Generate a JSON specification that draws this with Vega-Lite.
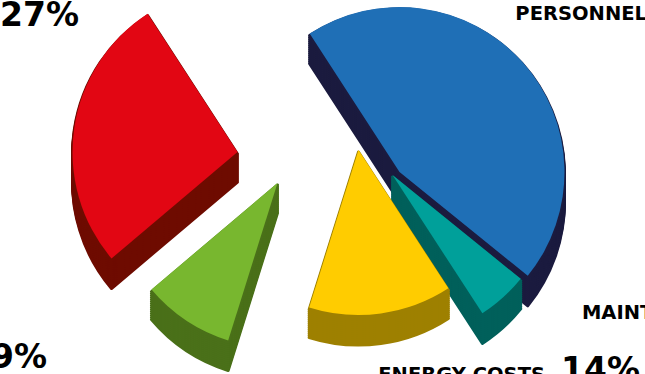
{
  "$schema": "https://vega.github.io/schema/vega-lite/v6.json",
  "width": 645,
  "height": 310,
  "autosize": "none",
  "padding": {"left": 0, "top": 0, "right": 0, "bottom": 64},
  "background": "white",
  "config": {"view": {"stroke": null}},
  "data": {"values": [
    {"name": "PERSONNEL", "value": 0.45, "order": 1},
    {"name": "MAINTENANCE", "value": 0.05, "order": 2},
    {"name": "ENERGY COSTS", "value": 0.14, "order": 3},
    {"name": "OTHER", "value": 0.09, "order": 4},
    {"name": "MATERIALS", "value": 0.27, "order": 5}
  ]},
  "layer": [
    {
      "encoding": {
        "theta": {"field": "value", "type": "quantitative", "stack": true, "scale": {"range": [-0.576, 5.707]}},
        "order": {"field": "order", "type": "quantitative"},
        "x": {"value": {"expr": "width/2 + (datum.name==='PERSONNEL' ? 77 : datum.name==='MAINTENANCE' ? 70 : datum.name==='ENERGY COSTS' ? 36 : datum.name==='OTHER' ? -45 : -85)"}}
      },
      "layer": [
        {"mark": {"type": "arc", "radius": 165, "strokeWidth": 3, "strokeJoin": "round"},
         "encoding": {
           "fill": {"field": "name", "type": "nominal", "legend": null, "scale": {"domain": ["PERSONNEL", "MAINTENANCE", "ENERGY COSTS", "OTHER", "MATERIALS"], "range": ["#1b1b3f", "#00605b", "#9e8000", "#4a7019", "#6e0b00"]}},
           "stroke": {"field": "name", "type": "nominal", "legend": null, "scale": {"domain": ["PERSONNEL", "MAINTENANCE", "ENERGY COSTS", "OTHER", "MATERIALS"], "range": ["#1b1b3f", "#00605b", "#9e8000", "#4a7019", "#6e0b00"]}},
           "y": {"value": {"expr": "height/2 + 30 + (datum.name==='PERSONNEL' ? 17 : datum.name==='MAINTENANCE' ? 20 : datum.name==='ENERGY COSTS' ? -5 : datum.name==='OTHER' ? 28 : -3)"}}
         }},
        {"mark": {"type": "arc", "radius": 165, "strokeWidth": 3, "strokeJoin": "round"},
         "encoding": {"fill": {"field": "name", "type": "nominal", "legend": null}, "stroke": {"field": "name", "type": "nominal", "legend": null},
           "y": {"value": {"expr": "height/2 + 28 + (datum.name==='PERSONNEL' ? 17 : datum.name==='MAINTENANCE' ? 20 : datum.name==='ENERGY COSTS' ? -5 : datum.name==='OTHER' ? 28 : -3)"}}}},
        {"mark": {"type": "arc", "radius": 165, "strokeWidth": 3, "strokeJoin": "round"},
         "encoding": {"fill": {"field": "name", "type": "nominal", "legend": null}, "stroke": {"field": "name", "type": "nominal", "legend": null},
           "y": {"value": {"expr": "height/2 + 26 + (datum.name==='PERSONNEL' ? 17 : datum.name==='MAINTENANCE' ? 20 : datum.name==='ENERGY COSTS' ? -5 : datum.name==='OTHER' ? 28 : -3)"}}}},
        {"mark": {"type": "arc", "radius": 165, "strokeWidth": 3, "strokeJoin": "round"},
         "encoding": {"fill": {"field": "name", "type": "nominal", "legend": null}, "stroke": {"field": "name", "type": "nominal", "legend": null},
           "y": {"value": {"expr": "height/2 + 24 + (datum.name==='PERSONNEL' ? 17 : datum.name==='MAINTENANCE' ? 20 : datum.name==='ENERGY COSTS' ? -5 : datum.name==='OTHER' ? 28 : -3)"}}}},
        {"mark": {"type": "arc", "radius": 165, "strokeWidth": 3, "strokeJoin": "round"},
         "encoding": {"fill": {"field": "name", "type": "nominal", "legend": null}, "stroke": {"field": "name", "type": "nominal", "legend": null},
           "y": {"value": {"expr": "height/2 + 22 + (datum.name==='PERSONNEL' ? 17 : datum.name==='MAINTENANCE' ? 20 : datum.name==='ENERGY COSTS' ? -5 : datum.name==='OTHER' ? 28 : -3)"}}}},
        {"mark": {"type": "arc", "radius": 165, "strokeWidth": 3, "strokeJoin": "round"},
         "encoding": {"fill": {"field": "name", "type": "nominal", "legend": null}, "stroke": {"field": "name", "type": "nominal", "legend": null},
           "y": {"value": {"expr": "height/2 + 20 + (datum.name==='PERSONNEL' ? 17 : datum.name==='MAINTENANCE' ? 20 : datum.name==='ENERGY COSTS' ? -5 : datum.name==='OTHER' ? 28 : -3)"}}}},
        {"mark": {"type": "arc", "radius": 165, "strokeWidth": 3, "strokeJoin": "round"},
         "encoding": {"fill": {"field": "name", "type": "nominal", "legend": null}, "stroke": {"field": "name", "type": "nominal", "legend": null},
           "y": {"value": {"expr": "height/2 + 18 + (datum.name==='PERSONNEL' ? 17 : datum.name==='MAINTENANCE' ? 20 : datum.name==='ENERGY COSTS' ? -5 : datum.name==='OTHER' ? 28 : -3)"}}}},
        {"mark": {"type": "arc", "radius": 165, "strokeWidth": 3, "strokeJoin": "round"},
         "encoding": {"fill": {"field": "name", "type": "nominal", "legend": null}, "stroke": {"field": "name", "type": "nominal", "legend": null},
           "y": {"value": {"expr": "height/2 + 16 + (datum.name==='PERSONNEL' ? 17 : datum.name==='MAINTENANCE' ? 20 : datum.name==='ENERGY COSTS' ? -5 : datum.name==='OTHER' ? 28 : -3)"}}}},
        {"mark": {"type": "arc", "radius": 165, "strokeWidth": 3, "strokeJoin": "round"},
         "encoding": {"fill": {"field": "name", "type": "nominal", "legend": null}, "stroke": {"field": "name", "type": "nominal", "legend": null},
           "y": {"value": {"expr": "height/2 + 14 + (datum.name==='PERSONNEL' ? 17 : datum.name==='MAINTENANCE' ? 20 : datum.name==='ENERGY COSTS' ? -5 : datum.name==='OTHER' ? 28 : -3)"}}}},
        {"mark": {"type": "arc", "radius": 165, "strokeWidth": 3, "strokeJoin": "round"},
         "encoding": {"fill": {"field": "name", "type": "nominal", "legend": null}, "stroke": {"field": "name", "type": "nominal", "legend": null},
           "y": {"value": {"expr": "height/2 + 12 + (datum.name==='PERSONNEL' ? 17 : datum.name==='MAINTENANCE' ? 20 : datum.name==='ENERGY COSTS' ? -5 : datum.name==='OTHER' ? 28 : -3)"}}}},
        {"mark": {"type": "arc", "radius": 165, "strokeWidth": 3, "strokeJoin": "round"},
         "encoding": {"fill": {"field": "name", "type": "nominal", "legend": null}, "stroke": {"field": "name", "type": "nominal", "legend": null},
           "y": {"value": {"expr": "height/2 + 10 + (datum.name==='PERSONNEL' ? 17 : datum.name==='MAINTENANCE' ? 20 : datum.name==='ENERGY COSTS' ? -5 : datum.name==='OTHER' ? 28 : -3)"}}}},
        {"mark": {"type": "arc", "radius": 165, "strokeWidth": 3, "strokeJoin": "round"},
         "encoding": {"fill": {"field": "name", "type": "nominal", "legend": null}, "stroke": {"field": "name", "type": "nominal", "legend": null},
           "y": {"value": {"expr": "height/2 + 8 + (datum.name==='PERSONNEL' ? 17 : datum.name==='MAINTENANCE' ? 20 : datum.name==='ENERGY COSTS' ? -5 : datum.name==='OTHER' ? 28 : -3)"}}}},
        {"mark": {"type": "arc", "radius": 165, "strokeWidth": 3, "strokeJoin": "round"},
         "encoding": {"fill": {"field": "name", "type": "nominal", "legend": null}, "stroke": {"field": "name", "type": "nominal", "legend": null},
           "y": {"value": {"expr": "height/2 + 6 + (datum.name==='PERSONNEL' ? 17 : datum.name==='MAINTENANCE' ? 20 : datum.name==='ENERGY COSTS' ? -5 : datum.name==='OTHER' ? 28 : -3)"}}}},
        {"mark": {"type": "arc", "radius": 165, "strokeWidth": 3, "strokeJoin": "round"},
         "encoding": {"fill": {"field": "name", "type": "nominal", "legend": null}, "stroke": {"field": "name", "type": "nominal", "legend": null},
           "y": {"value": {"expr": "height/2 + 4 + (datum.name==='PERSONNEL' ? 17 : datum.name==='MAINTENANCE' ? 20 : datum.name==='ENERGY COSTS' ? -5 : datum.name==='OTHER' ? 28 : -3)"}}}},
        {"mark": {"type": "arc", "radius": 165, "strokeWidth": 3, "strokeJoin": "round"},
         "encoding": {"fill": {"field": "name", "type": "nominal", "legend": null}, "stroke": {"field": "name", "type": "nominal", "legend": null},
           "y": {"value": {"expr": "height/2 + 2 + (datum.name==='PERSONNEL' ? 17 : datum.name==='MAINTENANCE' ? 20 : datum.name==='ENERGY COSTS' ? -5 : datum.name==='OTHER' ? 28 : -3)"}}}},
        {"mark": {"type": "arc", "radius": 165, "strokeWidth": 0.6},
         "encoding": {
           "color": {"field": "name", "type": "nominal", "legend": null, "scale": {"domain": ["PERSONNEL", "MAINTENANCE", "ENERGY COSTS", "OTHER", "MATERIALS"], "range": ["#1f6fb6", "#00a09a", "#ffcc00", "#78b72f", "#e20613"]}},
           "y": {"value": {"expr": "height/2 + (datum.name==='PERSONNEL' ? 17 : datum.name==='MAINTENANCE' ? 20 : datum.name==='ENERGY COSTS' ? -5 : datum.name==='OTHER' ? 28 : -3)"}}
         }}
      ]
    },
    {
      "layer": [
        {"mark": {"type": "text", "align": "right", "baseline": "alphabetic", "font": "DejaVu Sans", "fontWeight": "bold", "fontSize": 19.5, "color": "black"},
         "encoding": {
           "text": {"field": "name", "type": "nominal"},
           "x": {"value": {"expr": "(datum.name==='PERSONNEL' ? 655 : datum.name==='MAINTENANCE' ? 750 : datum.name==='ENERGY COSTS' ? 553 : datum.name==='OTHER' ? -17 : -8) - 8"}},
           "y": {"value": {"expr": "datum.name==='PERSONNEL' ? 20 : datum.name==='MAINTENANCE' ? 319 : datum.name==='ENERGY COSTS' ? 381 : datum.name==='OTHER' ? 368 : 26"}}
         }},
        {"mark": {"type": "text", "align": "left", "baseline": "alphabetic", "font": "DejaVu Sans", "fontWeight": "bold", "fontSize": 33, "color": "black"},
         "encoding": {
           "text": {"field": "value", "type": "quantitative", "format": ".0%"},
           "x": {"value": {"expr": "(datum.name==='PERSONNEL' ? 655 : datum.name==='MAINTENANCE' ? 750 : datum.name==='ENERGY COSTS' ? 553 : datum.name==='OTHER' ? -17 : -8) + 8"}},
           "y": {"value": {"expr": "datum.name==='PERSONNEL' ? 20 : datum.name==='MAINTENANCE' ? 319 : datum.name==='ENERGY COSTS' ? 381 : datum.name==='OTHER' ? 368 : 26"}}
         }}
      ]
    }
  ]
}
